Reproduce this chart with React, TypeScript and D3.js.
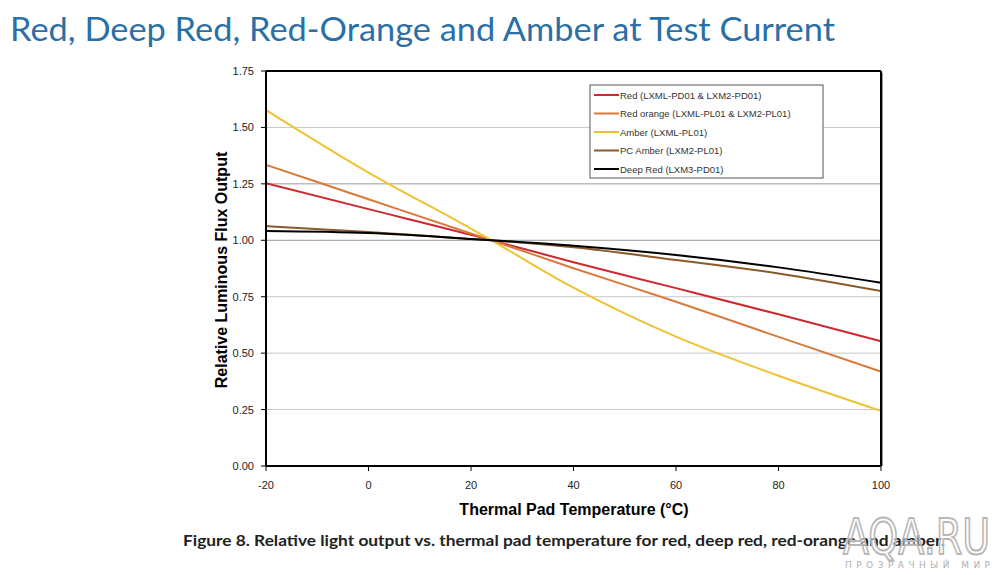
import React from "react";
import * as d3 from "d3";

const temps = [-20, 0, 20, 24, 40, 60, 80, 100];
const redVals = [1.253, 1.138, 1.024, 1.0, 0.903, 0.788, 0.672, 0.553];
const redOrangeVals = [1.334, 1.182, 1.03, 1.0, 0.876, 0.728, 0.572, 0.418];
const amberVals = [1.577, 1.3, 1.052, 1.0, 0.79, 0.573, 0.4, 0.244];
const pcAmberVals = [1.063, 1.037, 1.006, 1.0, 0.969, 0.913, 0.853, 0.775];
const deepRedVals = [1.041, 1.032, 1.006, 1.0, 0.976, 0.935, 0.88, 0.812];

const seriesNames = [
  "Red (LXML-PD01 & LXM2-PD01)",
  "Red orange (LXML-PL01 & LXM2-PL01)",
  "Amber (LXML-PL01)",
  "PC Amber (LXM2-PL01)",
  "Deep Red (LXM3-PD01)",
];
const seriesColors = ["#cc2a2e", "#d97a3c", "#efc234", "#8a5a2c", "#000000"];
const seriesValues = [redVals, redOrangeVals, amberVals, pcAmberVals, deepRedVals];

const xTicks = [-20, 0, 20, 40, 60, 80, 100];
const yTicks = [0, 0.25, 0.5, 0.75, 1.0, 1.25, 1.5, 1.75];

export default function App() {
  const left = 266, right = 881, top = 71, bottom = 466;
  const x = d3.scaleLinear().domain([-20, 100]).range([left, right]);
  const y = d3.scaleLinear().domain([0, 1.75]).range([bottom, top]);
  const line = d3
    .line<[number, number]>()
    .x((d) => x(d[0]))
    .y((d) => y(d[1]))
    .curve(d3.curveMonotoneX);

  const lx = 590, ly = 85, lw = 233, lh = 93;

  return (
    <svg width={1000} height={575} style={{ position: "absolute", left: 0, top: 0, background: "#fff" }}>
      <rect x={0} y={0} width={1000} height={575} fill="#fff" />
      <text x={10} y={41} fontFamily="Lato, 'Open Sans', sans-serif" fontSize={33} fill="#2a70a6" textLength={825} lengthAdjust="spacingAndGlyphs">
        Red, Deep Red, Red-Orange and Amber at Test Current
      </text>

      {/* gridlines */}
      {yTicks.filter((t) => t > 0 && t < 1.75).map((t) => (
        <line key={"g" + t} x1={left} x2={right} y1={y(t)} y2={y(t)} stroke={t === 1 || t === 1.25 ? "#9a9a9a" : "#c8c8c8"} strokeWidth={1} />
      ))}

      {/* series */}
      {seriesValues.map((vals, i) => (
        <path
          key={"s" + i}
          d={line(temps.map((t, j) => [t, vals[j]] as [number, number])) || ""}
          fill="none"
          stroke={seriesColors[i]}
          strokeWidth={2}
        />
      ))}

      {/* frame */}
      <line x1={left} x2={right} y1={top} y2={top} stroke="#000" strokeWidth={2} />
      <line x1={right} x2={right} y1={top} y2={bottom} stroke="#000" strokeWidth={2} />
      <line x1={right + 1.5} x2={right + 1.5} y1={top + 2} y2={bottom} stroke="#999" strokeWidth={1} />
      <line x1={left} x2={left} y1={top} y2={bottom} stroke="#000" strokeWidth={2} />
      <line x1={left} x2={right} y1={bottom} y2={bottom} stroke="#000" strokeWidth={2} />

      {/* y ticks */}
      {yTicks.map((t) => (
        <g key={"y" + t}>
          <line x1={left - 5} x2={left} y1={y(t)} y2={y(t)} stroke="#000" strokeWidth={1} />
          <text x={254} y={y(t) + 4} textAnchor="end" fontFamily="Arial, 'Liberation Sans', sans-serif" fontSize={11} fill="#222">
            {d3.format(".2f")(t)}
          </text>
        </g>
      ))}
      {/* x ticks */}
      {xTicks.map((t) => (
        <g key={"x" + t}>
          <line x1={x(t)} x2={x(t)} y1={bottom} y2={bottom + 5} stroke="#000" strokeWidth={1} />
          <text x={x(t)} y={489} textAnchor="middle" fontFamily="Arial, 'Liberation Sans', sans-serif" fontSize={11} fill="#222">
            {t}
          </text>
        </g>
      ))}

      <text
        transform={`translate(227,270) rotate(-90)`}
        textAnchor="middle"
        fontFamily="Arial, 'Liberation Sans', sans-serif"
        fontWeight="bold"
        fontSize={16}
        fill="#000"
      >
        Relative Luminous Flux Output
      </text>
      <text x={574} y={515} textAnchor="middle" fontFamily="Arial, 'Liberation Sans', sans-serif" fontWeight="bold" fontSize={16} fill="#000">
        Thermal Pad Temperature (°C)
      </text>

      {/* legend */}
      <rect x={lx} y={ly} width={lw} height={lh} fill="#fff" stroke="#555" strokeWidth={1} />
      {seriesNames.map((n, i) => (
        <g key={"l" + i}>
          <line x1={lx + 4} x2={lx + 29} y1={ly + 10 + i * 18.5} y2={ly + 10 + i * 18.5} stroke={seriesColors[i]} strokeWidth={2} />
          <text x={lx + 30} y={ly + 13.5 + i * 18.5} fontFamily="Arial, 'Liberation Sans', sans-serif" fontSize={9.5} fill="#333">
            {n}
          </text>
        </g>
      ))}

      {/* caption */}
      <text x={183} y={546} fontFamily="Lato, 'Open Sans', sans-serif" fontWeight="bold" fontSize={15} fill="#222" textLength={762} lengthAdjust="spacingAndGlyphs">
        Figure 8.  Relative light output vs. thermal pad temperature for red, deep red, red-orange and amber.
      </text>

      {/* watermark */}
      <text x={843} y={554} fontFamily="'DejaVu Sans', Arial, sans-serif" fontSize={50} fill="rgba(255,255,255,0.45)" stroke="#b8b8b8" strokeWidth={2} textLength={147} lengthAdjust="spacingAndGlyphs">
        AQA.RU
      </text>
      <text x={845} y={568} fontFamily="'DejaVu Sans', Arial, sans-serif" fontSize={9} fill="#b0b0b0" textLength={145} lengthAdjust="spacing">
        ПРОЗРАЧНЫЙ МИР
      </text>
    </svg>
  );
}
